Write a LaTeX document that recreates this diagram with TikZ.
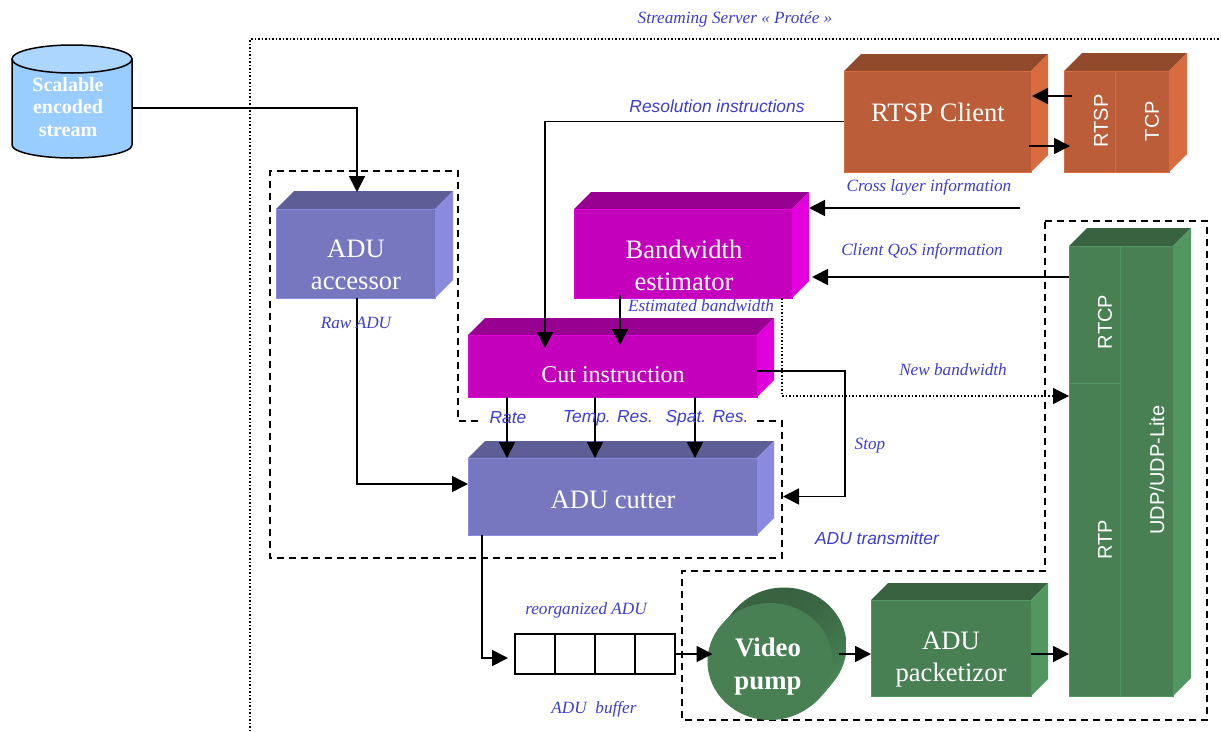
\documentclass[tikz,border=0pt]{standalone}
\usepackage{fontspec}
\setmainfont{Liberation Serif}
\setsansfont{Liberation Sans}
\usepackage{tikz}
\usetikzlibrary{shapes.geometric}
\usetikzlibrary{arrows.meta}
\definecolor{rtsptop}{RGB}{146,74,44}
\definecolor{rtspfront}{RGB}{186,93,56}
\definecolor{rtspside}{RGB}{217,107,64}
\definecolor{magtop}{RGB}{152,0,146}
\definecolor{magfront}{RGB}{196,0,189}
\definecolor{magside}{RGB}{226,0,220}
\definecolor{adutop}{RGB}{94,94,150}
\definecolor{adufront}{RGB}{119,119,192}
\definecolor{aduside}{RGB}{138,138,224}
\definecolor{greentop}{RGB}{56,98,64}
\definecolor{greenfront}{RGB}{72,128,84}
\definecolor{greenside}{RGB}{82,150,98}
\definecolor{streambody}{RGB}{153,204,255}
\definecolor{streamtop}{RGB}{173,214,255}
\definecolor{labelblue}{RGB}{60,60,210}
\tikzset{
  flow/.style={line width=1.7pt,-{Triangle[length=16pt,width=16pt]}},
  serverline/.style={line width=1.2pt,dash pattern=on 1.5pt off 2pt},
  groupline/.style={line width=1.5pt,dash pattern=on 7pt off 5pt},
  prismface/.style={rectangle,inner sep=0pt,outer sep=0pt,line width=.6pt},
  boxtext/.style={text=white,align=center,font=\fontsize{26.6}{32}\selectfont,inner sep=0pt},
  stacktext/.style={text=white,rotate=90,font=\sffamily\fontsize{20}{22}\selectfont,inner sep=0pt},
  serifnote/.style={text=labelblue,font=\itshape\fontsize{17.2}{19}\selectfont,inner sep=0pt},
  sansnote/.style={text=labelblue,font=\sffamily\itshape\fontsize{17.4}{19}\selectfont,inner sep=0pt}
}
\newcommand{\prismbox}[7]{%
  \fill[#7top] (#2,#3) -- ({#2+#6},{#3-#6}) -- ({#4+#6},{#3-#6}) -- (#4,#3) -- cycle;
  \fill[#7side] (#4,#3) -- ({#4+#6},{#3-#6}) -- ({#4+#6},{#5-#6}) -- (#4,#5) -- cycle;
  \node[prismface,fill=#7front,draw=#7side,minimum width={(#4-#2)*1pt},minimum height={(#5-#3)*1pt}] (#1) at ({(#2+#4)/2},{(#3+#5)/2}) {};
}
\begin{document}
\begin{tikzpicture}[x=1pt,y=-1pt]
\useasboundingbox (0,0) rectangle (1221,731);
\coordinate (servercorner) at (250,39);
\coordinate (serverright) at (1221,39);
\coordinate (serverbottom) at (250,731);
\draw[serverline] (serverbottom) -- (servercorner) -- (serverright);
\draw[groupline] (478,421) -- (458,421) -- (458,171) -- (270,171) -- (270,558) -- (782,558) -- (782,421) -- (755,421);
\draw[groupline] (1045,221) -- (1207,221) -- (1207,720) -- (682,720) -- (682,571) -- (1045,571) -- cycle;

\draw[line width=1.5pt,fill=streambody] (12,59) -- (12,145) arc[start angle=180,end angle=0,x radius=60,y radius=13] -- (132,59) -- cycle;
\node[ellipse,draw,line width=1.5pt,fill=streamtop,inner sep=0pt,outer sep=0pt,minimum width=120pt,minimum height=28pt] (streamlid) at (72,59) {};
\node[rectangle,inner sep=0pt,outer sep=0pt,minimum width=120pt,minimum height=86pt] (stream) at (72,102) {};
\node[text=white,align=center,font=\bfseries\fontsize{20}{22.5}\selectfont,inner sep=0pt] (streamtext) at (68,107) {Scalable\\encoded\\stream};

\prismbox{rtsp}{844}{71}{1031}{172}{17}{rtsp}
\prismbox{rtsptcp}{1064}{71}{1169}{172}{18}{rtsp}
\draw[rtspside,line width=1pt] (1115,71) -- (1115,172);
\prismbox{accessor}{276}{209}{435}{298}{18}{adu}
\prismbox{estimator}{574}{209}{792}{298}{17}{mag}
\prismbox{cut}{468}{335}{757}{397}{17}{mag}
\prismbox{cutter}{468}{458}{757}{535}{17}{adu}
\prismbox{packetizor}{871}{600}{1031}{696}{17}{green}
\prismbox{udp}{1069}{246}{1173}{696}{18}{green}
\draw[greenside,line width=1pt] (1120,246) -- (1120,696);
\draw[greenside,line width=.6pt] (1069,383) -- (1120,383);

\foreach \t in {1,.9,...,0}
  \shade[top color=greentop,middle color=greenside,bottom color=greenside] ({771+13*\t},{661.5-15.5*\t}) ellipse (62.5 and 58.5);
\node[ellipse,fill=greenfront,inner sep=0pt,outer sep=0pt,minimum width=125pt,minimum height=117pt] (pump) at (770,661.5) {};
\node[text=white,align=center,font=\bfseries\fontsize{26.8}{33}\selectfont,inner sep=0pt] (pumptext) at (768,667) {Video\\pump};

\node[draw,line width=1.5pt,inner sep=0pt,outer sep=0pt,minimum width=160pt,minimum height=40pt] (buffer) at (595,654) {};
\foreach \i in {-40,0,40}
  \draw[line width=1.5pt] ([xshift=\i]buffer.north) -- ([xshift=\i]buffer.south);

\node[boxtext] (rtsptext) at (938,112) {RTSP Client};
\node[boxtext] (accessortext) at (356,265) {ADU\\accessor};
\node[boxtext] (estimatortext) at (684,265) {Bandwidth\\estimator};
\node[boxtext,font=\fontsize{24}{26}\selectfont] (cuttext) at (613,375) {Cut instruction};
\node[boxtext] (cuttertext) at (613,500) {ADU cutter};
\node[boxtext] (packetizortext) at (951,660) {ADU\\packetizor};
\node[stacktext] (rtsplabel) at (1101,121) {RTSP};
\node[stacktext] (tcplabel) at (1152,121) {TCP};
\node[stacktext] (rtcplabel) at (1105,322) {RTCP};
\node[stacktext] (rtplabel) at (1105,540) {RTP};
\node[stacktext] (udplabel) at (1157,470) {UDP/UDP-Lite};

\draw[flow] ([yshift=-6]stream.east) -| ([xshift=1.5,yshift=17]accessor.north);
\draw[flow] (rtsp.west) -| ([xshift=-67.5,yshift=-13]cut.north);
\draw[flow] ([xshift=8,yshift=25.5]rtsptcp.west) -- ([xshift=1,yshift=25.5]rtsp.east);
\draw[flow] ([xshift=-2,yshift=-24.5]rtsp.east) -- ([xshift=6,yshift=-24.5]rtsptcp.west);
\coordinate (crossfree) at (1020,208);
\draw[flow] (crossfree) -- ([xshift=17,yshift=45.5]estimator.east);
\draw[flow] ([yshift=194]udp.west) -- ([xshift=20,yshift=-23.5]estimator.east);
\draw[flow] ([xshift=-63,yshift=3]estimator.south) -- ([xshift=7.5,yshift=-10]cut.north);
\draw[flow] ([xshift=1.5]accessor.south) |- ([yshift=12.5]cutter.west);
\draw[flow] ([xshift=-105.5]cut.south) -- ([xshift=-105.5]cutter.north);
\draw[flow] ([xshift=-17.5]cut.south) -- ([xshift=-17.5]cutter.north);
\draw[flow] ([xshift=82.5]cut.south) -- ([xshift=82.5]cutter.north);
\draw[flow] ([yshift=-5]cut.east) -- ++(88,0) |- ([xshift=26]cutter.east);
\draw[flow] ([xshift=-130.5]cutter.south) |- ([xshift=-7,yshift=-4]buffer.west);
\draw[flow] (buffer.east) -- ([xshift=5,yshift=7.5]pump.west);
\draw[flow] ([xshift=6,yshift=7.5]pump.east) -- ([yshift=-6]packetizor.west);
\draw[flow] ([yshift=-6]packetizor.east) -- ([yshift=-183]udp.west);
\draw[serverline,-{Triangle[length=16pt,width=16pt]}] ([xshift=99]estimator.south) |- ([yshift=75]udp.west);

\node[serifnote] (servernote) at (735,19) {Streaming Server « Protée »};
\node[sansnote] (resolutionnote) at (717,106) {Resolution instructions};
\node[serifnote] (crossnote) at (929,187) {Cross layer information};
\node[serifnote] (qosnote) at (922,251) {Client QoS information};
\node[serifnote] (bandwidthnote) at (701,306) {Estimated bandwidth};
\node[serifnote] (newnote) at (953,370) {New bandwidth};
\node[serifnote] (rawnote) at (356,323) {Raw ADU};
\node[sansnote] (ratenote) at (508,418) {Rate};
\node[sansnote] (tempnote) at (608,418) {Temp. Res.};
\node[sansnote] (spatnote) at (707,418) {Spat. Res.};
\node[serifnote] (stopnote) at (870,446) {Stop};
\node[sansnote] (transmitternote) at (877,538) {ADU transmitter};
\node[serifnote] (reorganizednote) at (586,610) {reorganized ADU};
\node[serifnote] (buffernote) at (594,709) {ADU\ \ buffer};
\end{tikzpicture}
\end{document}
